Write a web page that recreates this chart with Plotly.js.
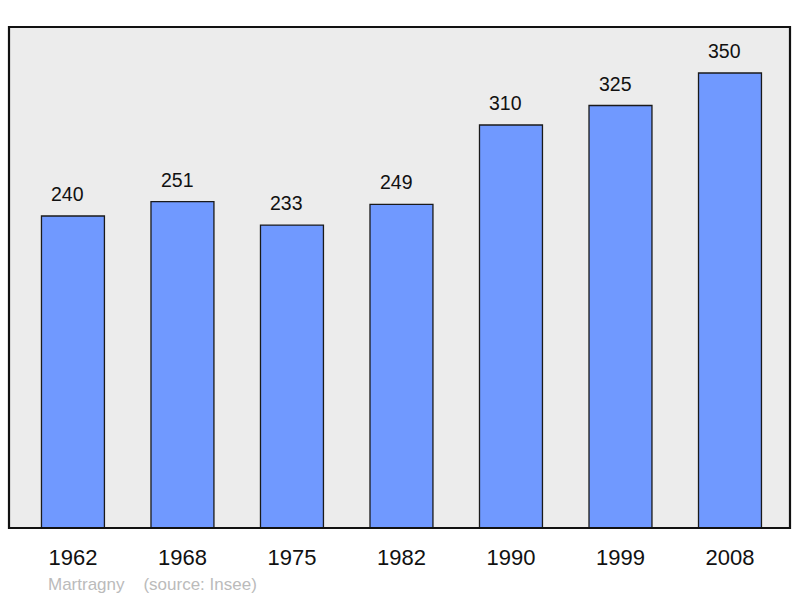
<!DOCTYPE html>
<html>
<head>
<meta charset="utf-8">
<script src="https://cdn.plot.ly/plotly-3.0.1.min.js"></script>
<style>html,body{margin:0;padding:0;background:#fff;}#chart{width:800px;height:598px;}</style>
</head>
<body>
<div id="chart"></div>
<script>
const years = ['1962', '1968', '1975', '1982', '1990', '1999', '2008'];
const population = [240, 251, 233, 249, 310, 325, 350];
const sourceText = 'Martragny \u00a0\u00a0\u00a0(source: Insee)';

const trace = {
  type: 'bar',
  x: years,
  y: population,
  width: 0.575,
  marker: {color: '#7099ff', line: {color: '#1a1a1a', width: 1.3}},
  hoverinfo: 'none'
};

const annotations = population.map((v, i) => ({
  x: i, y: v, xref: 'x', yref: 'y',
  text: String(v), showarrow: false,
  yanchor: 'bottom', yshift: 9, xshift: -5,
  font: {family: 'Liberation Sans, Arial, sans-serif', size: 19.5, color: '#111'}
}));
annotations.push({
  xref: 'paper', yref: 'paper', x: 0.048, y: -0.113, xanchor: 'left', yanchor: 'middle',
  text: sourceText, showarrow: false,
  font: {family: 'Liberation Sans, Arial, sans-serif', size: 17, color: '#bbbbbb'}
});

const layout = {
  width: 800, height: 598,
  margin: {l: 9, r: 10, t: 27, b: 70},
  paper_bgcolor: '#ffffff',
  plot_bgcolor: '#ececec',
  showlegend: false,
  xaxis: {
    type: 'category', range: [-0.584, 6.548],
    showgrid: false, zeroline: false, showline: false, ticks: '',
    ticklabelstandoff: 14,
    tickfont: {family: 'Liberation Sans, Arial, sans-serif', size: 22, color: '#111'}
  },
  yaxis: {
    range: [0, 385.4], showgrid: false, zeroline: false, showline: false,
    showticklabels: false, ticks: ''
  },
  annotations: annotations,
  shapes: [{
    type: 'rect', xref: 'paper', yref: 'paper', x0: 0, x1: 1, y0: 0, y1: 1,
    line: {color: '#111', width: 2.2}, layer: 'above'
  }]
};

Plotly.newPlot('chart', [trace], layout, {displayModeBar: false, staticPlot: true});
</script>
</body>
</html>
